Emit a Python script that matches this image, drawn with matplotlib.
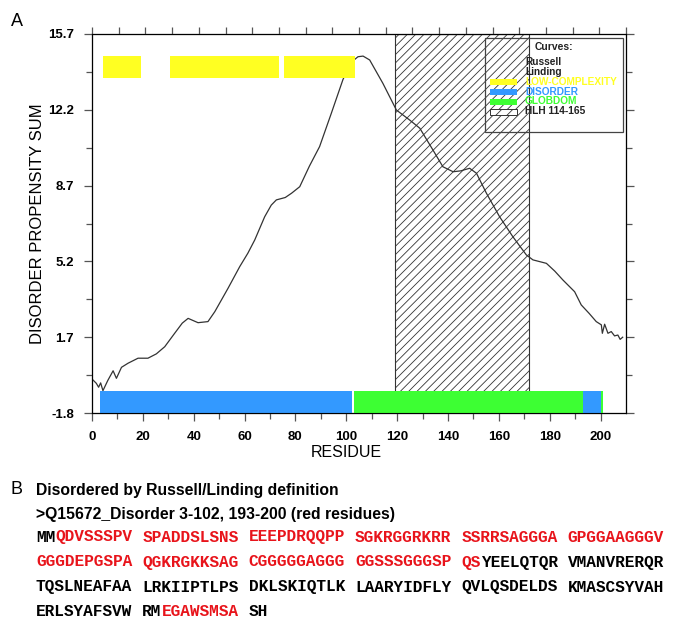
import numpy as np
import matplotlib
matplotlib.use('Agg')
import matplotlib.pyplot as plt
from matplotlib.patches import Rectangle

plt.rcParams['font.family'] = ['Liberation Sans', 'DejaVu Sans']
plt.rcParams['hatch.linewidth'] = 0.6

# disorder propensity curve
residue = [0, 1.7, 2.6, 3.4, 4.3, 6.2, 8.3, 9.6, 11.6, 14.2, 18.1, 22, 25.3, 28.6,
           32.5, 35.5, 37.8, 41.7, 45.6, 48.3, 53.5, 58.1, 61.3, 64, 67.9, 70.5,
           72.5, 76, 78.5, 81.7, 85.5, 89.5, 94, 98.7, 102, 104.6, 106.6, 109.2,
           114.4, 119.7, 124.9, 128.9, 134.1, 138, 142, 145, 148.5, 151.2, 155.1,
           160.3, 165.5, 170.8, 173.4, 178.7, 182, 185.2, 189.8, 192.4, 195.5,
           198.3, 200.3, 200.7, 201.6, 202.9, 204.2, 205.5, 206.8, 207.7, 208.7]
propensity = [-0.23, -0.43, -0.61, -0.41, -0.77, -0.3, 0.15, -0.2, 0.31, 0.5, 0.73,
              0.73, 0.93, 1.26, 1.88, 2.35, 2.57, 2.37, 2.42, 2.88, 3.96, 4.96, 5.58,
              6.19, 7.26, 7.8, 8.04, 8.15, 8.35, 8.65, 9.6, 10.5, 12.0, 13.6, 14.4,
              14.65, 14.68, 14.5, 13.42, 12.19, 11.73, 11.35, 10.34, 9.57, 9.34, 9.38,
              9.5, 9.27, 8.35, 7.26, 6.34, 5.5, 5.27, 5.11, 4.75, 4.34, 3.8, 3.19,
              2.8, 2.42, 2.27, 1.88, 2.3, 1.88, 1.96, 1.76, 1.8, 1.6, 1.7]

low_complexity = [(4.4, 19.1), (30.6, 73.5), (75.4, 103.6)]
disorder = [(3.1, 102.4), (193.0, 200.2)]
globdom = [(103.0, 193.0), (200.3, 201.0)]
hlh = (119, 172)

y_ticks = [-1.8, 1.7, 5.2, 8.7, 12.2, 15.7]
x_ticks = list(range(0, 201, 20))

legend_labels = ['LOW-COMPLEXITY', 'DISORDER', 'GLOBDOM', 'HLH 114-165']

sequence = ('MMQDVSSSPVSPADDSLSNSEEEPDRQQPPSGKRGGRKRRSSRRSAGGGAGPGGAAGGGV'
            'GGGDEPGSPAQGKRGKKSAGCGGGGGAGGGGGSSSGGGSPQSYEELQTQRVMANVRERQR'
            'TQSLNEAFAALRKIIPTLPSDKLSKIQTLKLAARYIDFLYQVLQSDELDSKMASCSYVAH'
            'ERLSYAFSVWRMEGAWSMSASH')
red_ranges = [(3, 102), (193, 200)]

YELLOW = '#ffff22'
BLUE = '#3399ff'
GREEN = '#3dff33'
INK = '#222222'
W, H = 685, 633

fig = plt.figure(figsize=(W / 100, H / 100), dpi=100)
ax = fig.add_axes([92 / W, 1 - 413 / H, 534 / W, 379 / H])
ax.set_xlim(0, 210)
ax.set_ylim(-1.8, 15.7)

# HLH region
ax.axvspan(hlh[0], hlh[1], facecolor='none', edgecolor='#333333', hatch='////',
           linewidth=0.8, zorder=1)
ax.plot(residue, propensity, color='#333333', linewidth=0.9, zorder=2)

def spans(r):
    return [(a, b - a) for a, b in r]

ax.broken_barh(spans(low_complexity), (13.67, 1.01), facecolors=YELLOW, zorder=3)
ax.broken_barh(spans(disorder), (-1.8, 1.02), facecolors=BLUE, zorder=3)
ax.broken_barh(spans(globdom), (-1.8, 1.02), facecolors=GREEN, zorder=3)

# axes styling
for s in ax.spines.values():
    s.set_color('#555555')
    s.set_linewidth(0.9)
ax.set_xticks(x_ticks)
ax.set_xticks(np.arange(10, 210, 20), minor=True)
ax.set_yticks(y_ticks)
ax.set_yticklabels([f'{v:.1f}' for v in y_ticks])
ax.set_yticks(np.array(y_ticks[:-1]) + 1.75, minor=True)
ax.tick_params(which='both', direction='out', color='#555555', width=0.9,
               labelsize=9.5, right=True)
ax.tick_params(which='major', length=6, pad=7)
ax.tick_params(which='minor', length=4)
for lab in ax.get_xticklabels() + ax.get_yticklabels():
    lab.set_fontweight('bold')

top = ax.twiny()
top.set_xlim(0, 1)
top.set_xticks(np.linspace(0, 1, 21))
top.tick_params(direction='out', length=5, color='#555555', width=0.9,
                labeltop=False)

ax.set_xlabel('RESIDUE', fontsize=11.5)
ax.xaxis.set_label_coords(100 / 210, -0.085)
ax.set_ylabel('DISORDER PROPENSITY SUM', fontsize=12)
ax.yaxis.set_label_coords(-0.088, 0.5)

# legend box
def axf(px, py):
    return (px - 92) / 534, (413 - py) / 379

x0, y0 = axf(485, 132)
x1, y1 = axf(623, 38)
ax.add_patch(Rectangle((x0, y0), x1 - x0, y1 - y0, transform=ax.transAxes,
                       fill=False, edgecolor='#444444', linewidth=0.9, zorder=4))
tx, ty = axf(554, 47)
ax.text(tx, ty, 'Curves:', transform=ax.transAxes, ha='center', va='center',
        fontsize=7.4, fontweight='bold', color=INK, zorder=5)
for lbl, py in [('Russell', 62), ('Linding', 72)]:
    tx, ty = axf(525, py)
    ax.text(tx, ty, lbl, transform=ax.transAxes, ha='left', va='center',
            fontsize=7.3, fontweight='bold', color=INK, zorder=5)
for lbl, col, py in zip(legend_labels, [YELLOW, BLUE, GREEN, INK],
                        [82, 91.7, 101.5, 111.5]):
    px0, py0 = axf(490, py + 3)
    px1, py1 = axf(517, py - 3)
    if col == INK:
        ax.add_patch(Rectangle((px0, py0), px1 - px0, py1 - py0,
                               transform=ax.transAxes, facecolor='white',
                               edgecolor='#333333', hatch='///', linewidth=0.7,
                               zorder=5))
    else:
        ax.add_patch(Rectangle((px0, py0), px1 - px0, py1 - py0,
                               transform=ax.transAxes, facecolor=col,
                               edgecolor='none', zorder=5))
    tx, ty = axf(525, py)
    ax.text(tx, ty, lbl, transform=ax.transAxes, ha='left', va='center',
            fontsize=7.3, fontweight='bold', color=col, zorder=5)

# panel letters and part B
def figtext(px, py, s, **kw):
    fig.text(px / W, 1 - py / H, s, va='center', **kw)

figtext(11, 22, 'A', fontsize=13)
figtext(11, 489, 'B', fontsize=13)
figtext(36, 491, 'Disordered by Russell/Linding definition', fontsize=11.3,
        fontweight='bold')
figtext(36, 514, '>Q15672_Disorder 3-102, 193-200 (red residues)', fontsize=11.3,
        fontweight='bold')

is_red = np.zeros(len(sequence), dtype=bool)
for a, b in red_ranges:
    is_red[a - 1:b] = True

seq_size = 11.6
adv = 0.6 * seq_size * 100 / 72
for row in range(0, len(sequence), 60):
    py = 537 + (row // 60) * 25
    col = 0
    runs = []
    for i in range(row, min(row + 60, len(sequence))):
        if i > row and (i - row) % 10 == 0:
            col += 1
        c = '#e8141b' if is_red[i] else 'black'
        if runs and runs[-1][1] == c and runs[-1][2] + len(runs[-1][0]) == col:
            runs[-1][0] += sequence[i]
        else:
            runs.append([sequence[i], c, col])
        col += 1
    for txt, c, cstart in runs:
        figtext(36 + cstart * adv, py, txt, fontsize=seq_size, color=c,
                family='Liberation Mono', fontweight='bold')

fig.savefig('out.png', dpi=100)
